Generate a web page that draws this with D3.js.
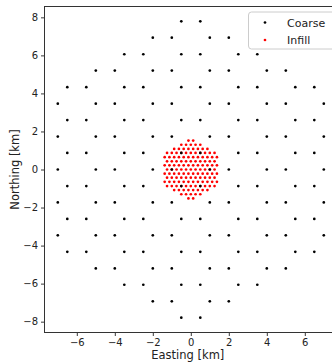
<!DOCTYPE html>
<html><head><meta charset="utf-8">
<script src="https://cdn.jsdelivr.net/npm/d3@7"></script>
<style>body{margin:0;background:#fff}svg{display:block;font-family:"DejaVu Sans",sans-serif}</style>
</head><body>
<svg id="c" width="332" height="362"></svg>
<script>
// Coarse grid: rows of Northing (km) with the Easting values (km) present in each row
const coarseRowY = [7.79, 6.93, 6.06, 5.20, 4.33, 3.46, 2.60, 1.73, 0.87, 0.00, -0.87, -1.73, -2.60, -3.46, -4.33, -5.20, -6.06, -6.93, -7.79];
const coarseRowX = [
  [-0.5, 0.5],
  [-2, -1, 1, 2],
  [-3.5, -2.5, -0.5, 0.5, 2.5, 3.5],
  [-5, -4, -2, -1, 1, 2, 4, 5],
  [-6.5, -5.5, -3.5, -2.5, -0.5, 0.5, 2.5, 3.5, 5.5, 6.5],
  [-7, -5, -4, -2, -1, 1, 2, 4, 5, 7],
  [-6.5, -5.5, -3.5, -2.5, -0.5, 0.5, 2.5, 3.5, 5.5, 6.5],
  [-7, -5, -4, -2, -1, 1, 2, 4, 5, 7],
  [-6.5, -5.5, -3.5, -2.5, -0.5, 0.5, 2.5, 3.5, 5.5, 6.5],
  [-7, -5, -4, -2, -1, 1, 2, 4, 5, 7],
  [-6.5, -5.5, -3.5, -2.5, -0.5, 0.5, 2.5, 3.5, 5.5, 6.5],
  [-7, -5, -4, -2, -1, 1, 2, 4, 5, 7],
  [-6.5, -5.5, -3.5, -2.5, -0.5, 0.5, 2.5, 3.5, 5.5, 6.5],
  [-7, -5, -4, -2, -1, 1, 2, 4, 5, 7],
  [-6.5, -5.5, -3.5, -2.5, -0.5, 0.5, 2.5, 3.5, 5.5, 6.5],
  [-5, -4, -2, -1, 1, 2, 4, 5],
  [-3.5, -2.5, -0.5, 0.5, 2.5, 3.5],
  [-2, -1, 1, 2],
  [-0.5, 0.5]
];
// Infill grid: rows of Northing (km) with Easting values (km)
const infillRowY = [1.52, 1.30, 1.08, 0.87, 0.65, 0.43, 0.22, 0.00, -0.22, -0.43, -0.65, -0.87, -1.08, -1.30, -1.52];
const infillRowX = [
  [-0.125, 0.125],
  [-0.5, -0.25, 0, 0.25, 0.5],
  [-0.875, -0.625, -0.375, -0.125, 0.125, 0.375, 0.625, 0.875],
  [-1.25, -1, -0.75, -0.5, -0.25, 0, 0.25, 0.5, 0.75, 1, 1.25],
  [-1.375, -1.125, -0.875, -0.625, -0.375, -0.125, 0.125, 0.375, 0.625, 0.875, 1.125, 1.375],
  [-1.25, -1, -0.75, -0.5, -0.25, 0, 0.25, 0.5, 0.75, 1, 1.25],
  [-1.375, -1.125, -0.875, -0.625, -0.375, -0.125, 0.125, 0.375, 0.625, 0.875, 1.125, 1.375],
  [-1.25, -1, -0.75, -0.5, -0.25, 0, 0.25, 0.5, 0.75, 1, 1.25],
  [-1.375, -1.125, -0.875, -0.625, -0.375, -0.125, 0.125, 0.375, 0.625, 0.875, 1.125, 1.375],
  [-1.25, -1, -0.75, -0.5, -0.25, 0, 0.25, 0.5, 0.75, 1, 1.25],
  [-1.375, -1.125, -0.875, -0.625, -0.375, -0.125, 0.125, 0.375, 0.625, 0.875, 1.125, 1.375],
  [-1.25, -1, -0.75, -0.5, -0.25, 0, 0.25, 0.5, 0.75, 1, 1.25],
  [-0.875, -0.625, -0.375, -0.125, 0.125, 0.375, 0.625, 0.875],
  [-0.5, -0.25, 0, 0.25, 0.5],
  [-0.125, 0.125]
];
const xTicks = [-6, -4, -2, 0, 2, 4, 6];
const yTicks = [-8, -6, -4, -2, 0, 2, 4, 6, 8];
const seriesNames = ["Coarse", "Infill"];
const seriesColors = ["#000000", "#ff0000"];

const coarse = coarseRowY.flatMap((y, i) => coarseRowX[i].map(x => ({x, y})));
const infill = infillRowY.flatMap((y, i) => infillRowX[i].map(x => ({x, y})));

const svg = d3.select("#c");
const L = 44.5, T = 6.5, R = 337.1, B = 332.5;
const x = d3.scaleLinear().domain([-7.7, 7.7]).range([L, R]);
const y = d3.scaleLinear().domain([-8.57, 8.57]).range([B, T]);

const fmt = d => (d < 0 ? "\u2212" + Math.abs(d) : "" + d);

const gx = svg.append("g").attr("transform", `translate(0,${B})`)
  .call(d3.axisBottom(x).tickValues(xTicks).tickFormat(fmt).tickSize(3.5).tickPadding(3));
const gy = svg.append("g").attr("transform", `translate(${L},0)`)
  .call(d3.axisLeft(y).tickValues(yTicks).tickFormat(fmt).tickSize(3.5).tickPadding(3));
[gx, gy].forEach(g => {
  g.select(".domain").remove();
  g.selectAll("text").attr("font-size", 10).attr("fill", "#222").attr("font-family", "DejaVu Sans");
  g.selectAll("line").attr("stroke", "#222").attr("stroke-width", 0.9);
});

// points
svg.append("g").selectAll("circle").data(infill).join("circle")
  .attr("cx", d => x(d.x)).attr("cy", d => y(d.y)).attr("r", 1.35).attr("fill", seriesColors[1]);
svg.append("g").selectAll("circle").data(coarse).join("circle")
  .attr("cx", d => x(d.x)).attr("cy", d => y(d.y)).attr("r", 1.35).attr("fill", seriesColors[0]);

// frame
svg.append("rect").attr("x", L).attr("y", T).attr("width", R - L).attr("height", B - T)
  .attr("fill", "none").attr("stroke", "#333").attr("stroke-width", 1);

// axis labels
svg.append("text").attr("x", (L + R) / 2 - 3).attr("y", 359).attr("text-anchor", "middle")
  .attr("font-size", 11.5).attr("fill", "#222").text("Easting [km]");
svg.append("text").attr("transform", `translate(19,169.5) rotate(-90)`).attr("text-anchor", "middle")
  .attr("font-size", 11.5).attr("fill", "#222").text("Northing [km]");

// legend
const lg = svg.append("g");
lg.append("rect").attr("x", 248.5).attr("y", 12).attr("width", 100).attr("height", 37).attr("rx", 3)
  .attr("fill", "#fff").attr("fill-opacity", 0.85).attr("stroke", "#ccc").attr("stroke-width", 1);
seriesNames.forEach((n, i) => {
  lg.append("circle").attr("cx", 265).attr("cy", 22.5 + i * 17.5).attr("r", 1.35).attr("fill", seriesColors[i]);
  lg.append("text").attr("x", 287).attr("y", 26.5 + i * 17.5).attr("font-size", 11).attr("fill", "#222").text(n);
});
</script>
</body></html>
